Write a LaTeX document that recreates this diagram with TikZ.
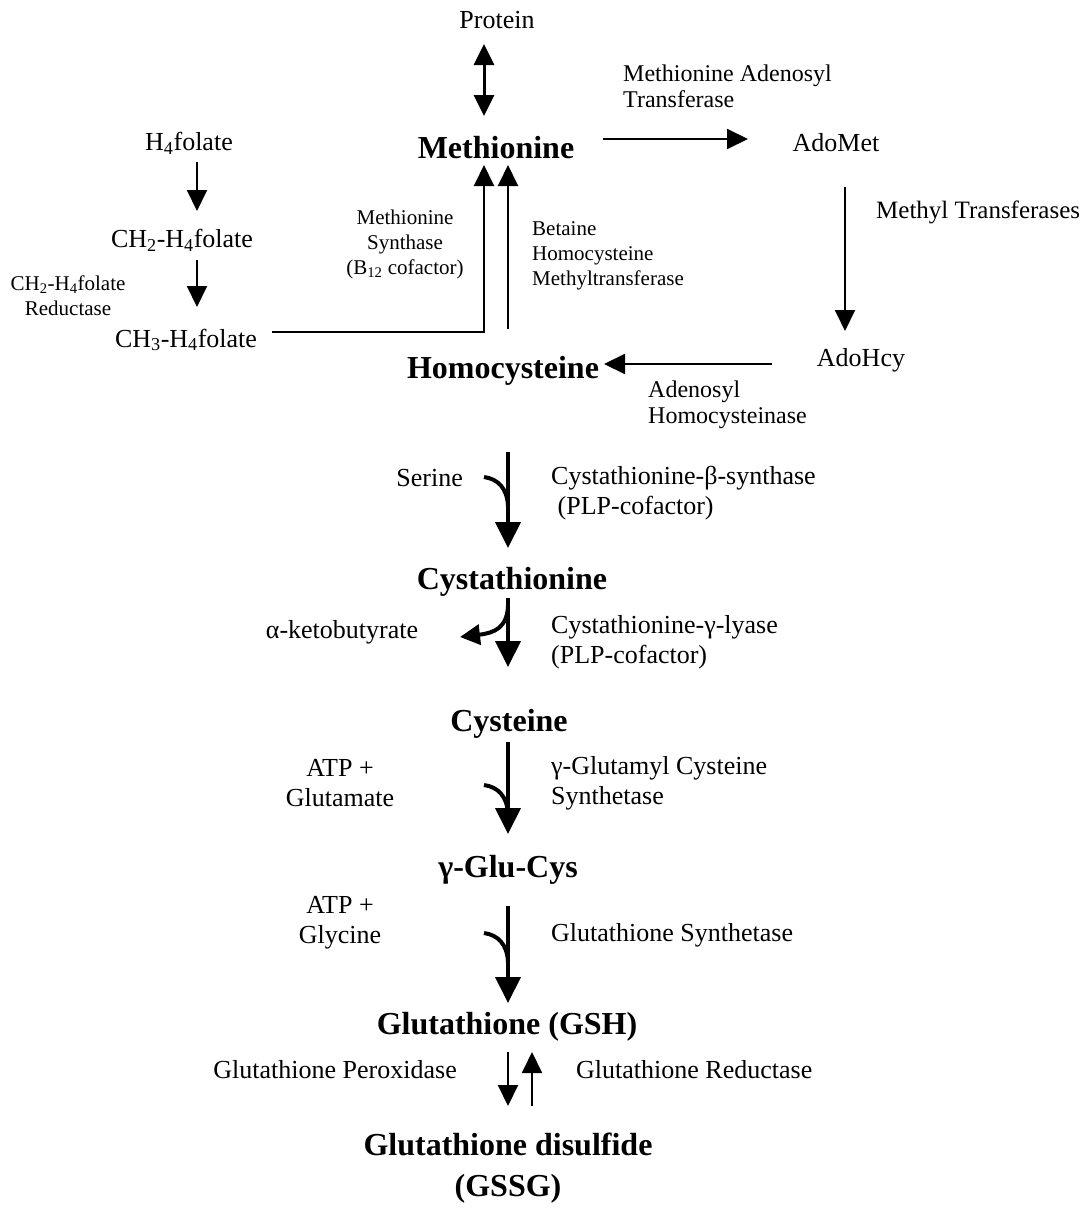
\documentclass[tikz,border=0pt]{standalone}
\usepackage{fontspec}
\setmainfont{Liberation Serif}
\usetikzlibrary{arrows.meta}
\begin{document}
\begin{tikzpicture}[x=1pt,y=-1pt,
  every node/.style={inner sep=0pt},
  bigt/.style={font=\fontsize{32}{41}\selectfont\bfseries},
  txt/.style={font=\fontsize{26}{30}\selectfont},
  lbl/.style={font=\fontsize{24}{26}\selectfont},
  sml/.style={font=\fontsize{21}{25}\selectfont},
  thinarr/.style={line width=2pt,-{Triangle[width=20pt,length=21pt]}},
  dblarr/.style={line width=3pt,{Triangle[width=20pt,length=21pt]}-{Triangle[width=20pt,length=21pt]}},
  thickarr/.style={line width=4pt,-{Triangle[width=25pt,length=26pt]}},
  thickline/.style={line width=4pt}]
\useasboundingbox (0,0) rectangle (1089,1218);

% main nodes
\node[txt] (prot) at (497,20) {Protein};
\node[bigt] (met) at (496,148) {Methionine};
\node[txt] (adomet) at (836,143) {AdoMet};
\node[txt] (adohcy) at (861,360) {AdoHcy};
\node[bigt] (hcy) at (503,371) {Homocysteine};
\node[bigt] (cysta) at (512,582) {Cystathionine};
\node[bigt] (cys) at (509,724) {Cysteine};
\node[bigt] (glucys) at (508,870) {γ-Glu-Cys};
\node[bigt] (gsh) at (507,1027) {Glutathione (GSH)};
\node[bigt,align=center] (gssg) at (508,1168) {Glutathione disulfide\\(GSSG)};

% folate
\node[txt] (h4f) at (189,143) {H\textsubscript{4}folate};
\node[txt] (ch2f) at (182,240) {CH\textsubscript{2}-H\textsubscript{4}folate};
\node[txt] (ch3f) at (186,340) {CH\textsubscript{3}-H\textsubscript{4}folate};
\node[sml,align=center] (mthfr) at (68,296) {CH\textsubscript{2}-H\textsubscript{4}folate\\Reductase};

% enzyme labels
\node[lbl,align=left,anchor=west] (mat) at (623,86) {Methionine Adenosyl\\Transferase};
\node[font=\fontsize{25}{28}\selectfont,anchor=west] (mtr) at (876,212) {Methyl Transferases};
\node[lbl,align=left,anchor=west] (ahc) at (648,405) {Adenosyl\\Homocysteinase};
\node[sml,align=center] (ms) at (405,244) {Methionine\\Synthase\\(B\textsubscript{12} cofactor)};
\node[sml,align=left,anchor=west] (bhmt) at (532,256) {Betaine\\Homocysteine\\Methyltransferase};

\node[txt,anchor=east] (ser) at (463,478) {Serine};
\node[txt,align=left,anchor=west] (cbs) at (551,493) {Cystathionine-β-synthase\\\ (PLP-cofactor)};
\node[txt] (akb) at (342,632) {α-ketobutyrate};
\node[txt,align=left,anchor=west] (cgl) at (551,642) {Cystathionine-γ-lyase\\(PLP-cofactor)};
\node[txt,align=center] (atp1) at (340,783) {ATP +\\Glutamate};
\node[txt,align=left,anchor=west] (gcs) at (551,783) {γ-Glutamyl Cysteine\\Synthetase};
\node[txt,align=center] (atp2) at (340,923) {ATP +\\Glycine};
\node[txt,anchor=west] (gs) at (551,935) {Glutathione Synthetase};
\node[txt,anchor=east] (gpx) at (457,1070) {Glutathione Peroxidase};
\node[txt,anchor=west] (gr) at (576,1070) {Glutathione Reductase};

% coordinates
\coordinate (pa) at (484,44);
\coordinate (pb) at (484,116);
\coordinate (ma) at (603,139);
\coordinate (mb) at (748,139);
\coordinate (aa) at (845,187);
\coordinate (ab) at (845,331);
\coordinate (ha) at (772,364);
\coordinate (hb) at (604,364);
\coordinate (f1a) at (197,162);
\coordinate (f1b) at (197,211);
\coordinate (f2a) at (197,260);
\coordinate (f2b) at (197,307);
\coordinate (msa) at (272,332);
\coordinate (msc) at (484,332);
\coordinate (msb) at (484,165);
\coordinate (bha) at (508,329);
\coordinate (bhb) at (508,165);
\coordinate (s1a) at (508,452);
\coordinate (s1b) at (508,548);
\coordinate (s1c) at (484,477);
\coordinate (s2a) at (508,598);
\coordinate (s2b) at (508,667);
\coordinate (s2c) at (460,637);
\coordinate (s3a) at (508,742);
\coordinate (s3b) at (508,834);
\coordinate (s3c) at (484,785);
\coordinate (s4a) at (508,906);
\coordinate (s4b) at (508,1003);
\coordinate (s4c) at (484,933);
\coordinate (g1a) at (508,1052);
\coordinate (g1b) at (508,1106);
\coordinate (g2a) at (532,1106);
\coordinate (g2b) at (532,1052);

% arrows
\draw[dblarr] (pa) -- (pb);
\draw[thinarr] (ma) -- (mb);
\draw[thinarr] (aa) -- (ab);
\draw[thinarr] (ha) -- (hb);
\draw[thinarr] (f1a) -- (f1b);
\draw[thinarr] (f2a) -- (f2b);
\draw[thinarr] (msa) -- (msc) -- (msb);
\draw[thinarr] (bha) -- (bhb);

\draw[thickarr] (s1a) -- (s1b);
\draw[thickline] (s1c) .. controls (498,479) and (507,488) .. (508,506);
\draw[thickarr] (s2a) -- (s2b);
\draw[line width=4pt,-{Triangle[width=20pt,length=20pt]}] (508,606) .. controls (507,628) and (494,633) .. (s2c);
\draw[thickarr] (s3a) -- (s3b);
\draw[thickline] (s3c) .. controls (498,787) and (507,796) .. (508,814);
\draw[thickarr] (s4a) -- (s4b);
\draw[thickline] (s4c) .. controls (498,935) and (507,944) .. (508,962);

\draw[thinarr] (g1a) -- (g1b);
\draw[thinarr] (g2a) -- (g2b);
\end{tikzpicture}
\end{document}
